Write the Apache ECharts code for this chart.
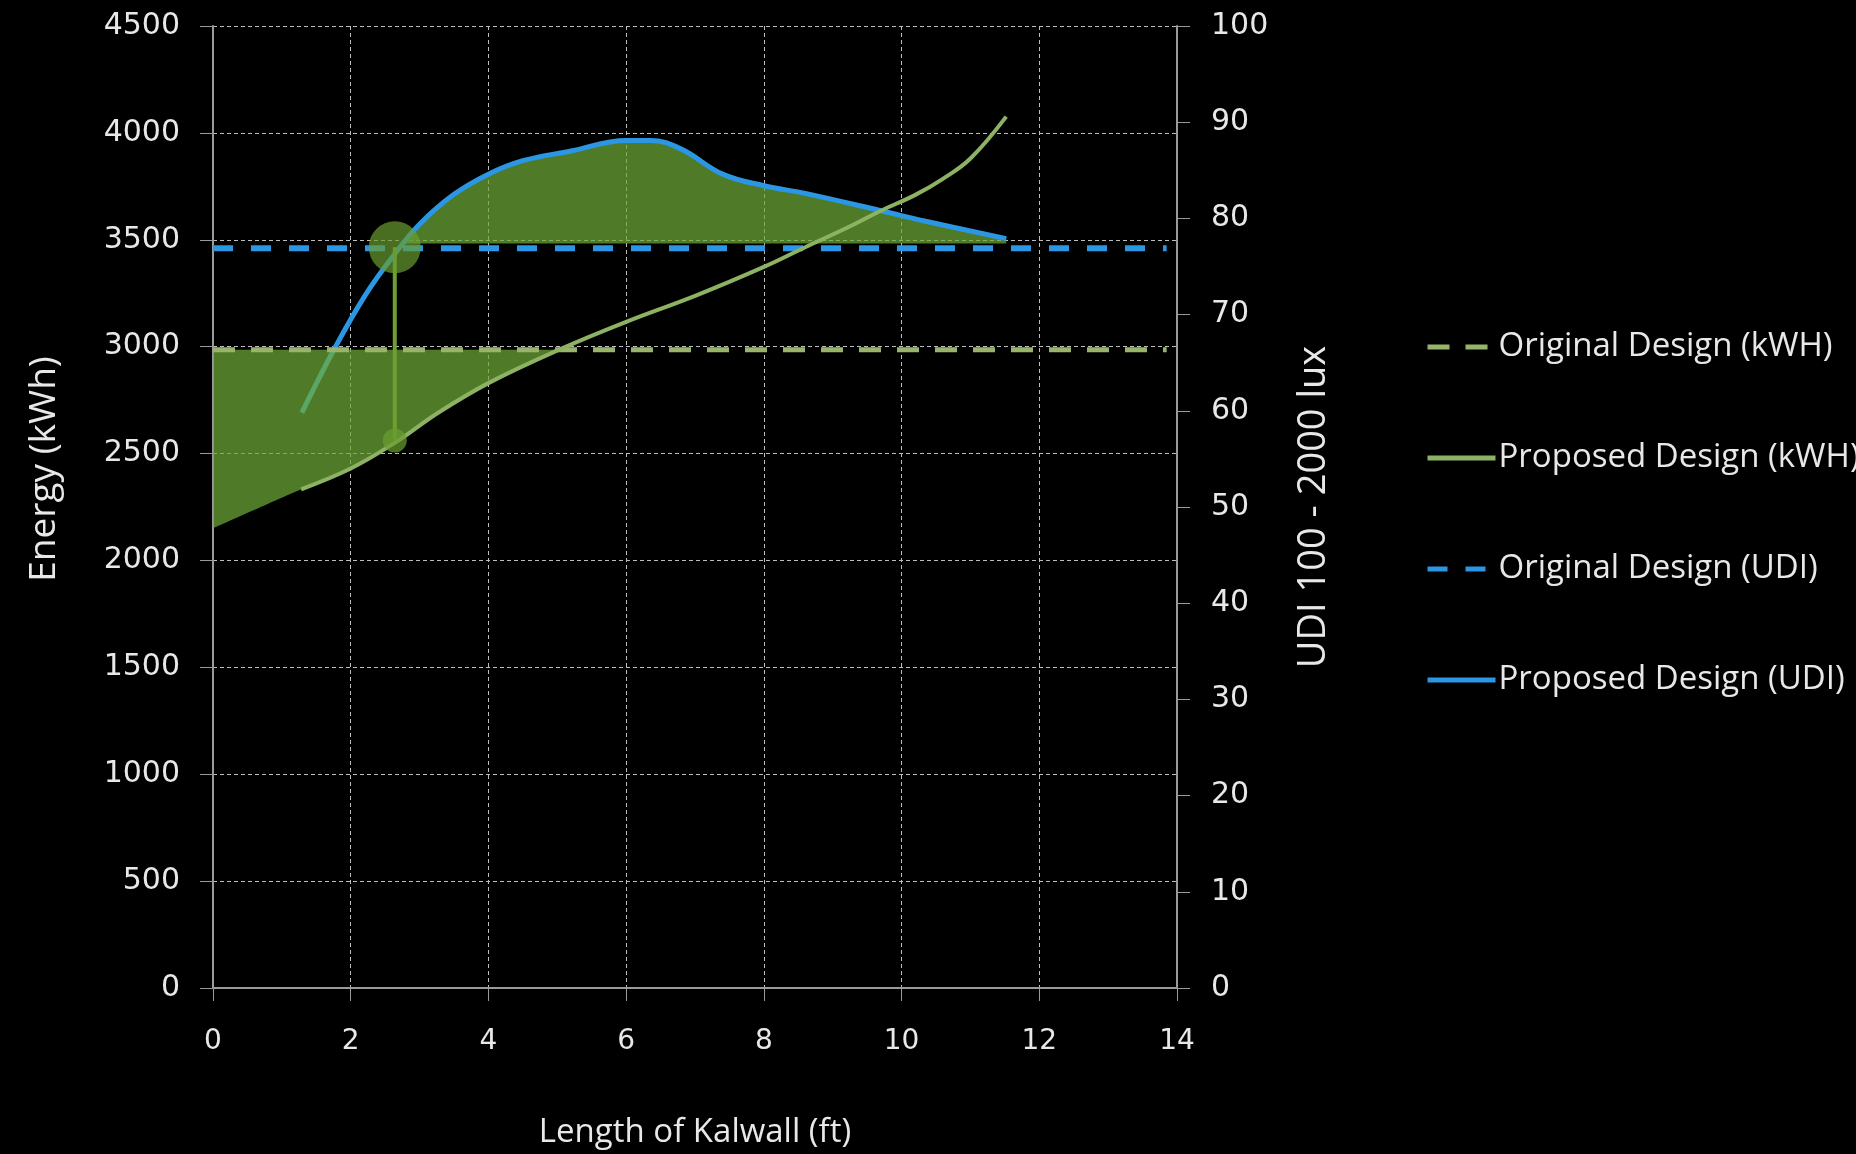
<!DOCTYPE html>
<html>
<head>
<meta charset="utf-8">
<title>Kalwall</title>
<script src="https://cdn.jsdelivr.net/npm/echarts@6/dist/echarts.min.js"></script>
<style>
    html, body { margin: 0; padding: 0; background: #000; }
    #main { width: 1856px; height: 1154px; }
</style>
</head>
<body>
<div id="main"></div>
<script>
// data
var xTicks = [0, 2, 4, 6, 8, 10, 12, 14];
var energyTicks = [0, 500, 1000, 1500, 2000, 2500, 3000, 3500, 4000, 4500];
var udiTicks = [0, 10, 20, 30, 40, 50, 60, 70, 80, 90, 100];

// the two flat reference lines stop just short of the right axis
var origKwh = 2985;
var origUdi = 76.9;
var origEndX = 13.85;

var propKwhX = [1.28, 2.0, 2.64, 3.27, 4.02, 5.02, 6.0, 7.02, 8.0, 8.6, 9.2, 9.7, 10.2, 10.6, 11.0, 11.52];
var propKwhY = [2333, 2430, 2550, 2691, 2833, 2985, 3116, 3240, 3373, 3465, 3555, 3636, 3710, 3785, 3880, 4076];

var propUdiX = [1.29, 1.76, 2.21, 2.64, 3.0, 3.5, 4.0, 4.5, 5.2, 6.0, 6.35, 6.8, 7.4, 8.0, 8.6, 9.7, 10.35, 11.52];
var propUdiY = [59.8, 66.4, 72.0, 76.3, 79.4, 82.5, 84.6, 86.0, 87.0, 88.1, 88.1, 87.2, 84.6, 83.4, 82.6, 80.8, 79.7, 77.9];

// shaded areas
var lowFillStart = [0, 2150];
var lowFillEndX = 5.02;
var upFillStart = [2.78, 77.4];
var upFillBase = 77.4;

// marker at the chosen length
var markX = 2.64;
var markUdiKwh = 3465;
var markEnergy = 2561;

function pairs(xs, ys) {
    var out = [];
    for (var i = 0; i < xs.length; i++) {
        out.push([xs[i], ys[i]]);
    }
    return out;
}

var propKwh = pairs(propKwhX, propKwhY);
var propUdi = pairs(propUdiX, propUdiY);

var lowFill = [lowFillStart];
for (var i = 0; i < propKwh.length; i++) {
    if (propKwh[i][0] <= lowFillEndX) lowFill.push(propKwh[i]);
}
var upFill = [upFillStart];
for (var j = 0; j < propUdi.length; j++) {
    if (propUdi[j][0] > upFillStart[0]) upFill.push(propUdi[j]);
}

var cGreenDash = '#98b46c';
var cGreen = '#8db263';
var cBlue = '#2b96e3';
var cFill = 'rgba(110,170,55,0.72)';
var cText = '#e8e8e8';
var cAxis = '#9a9a9a';
var cGrid = '#bdbdbd';

var myChart = echarts.init(document.getElementById('main'));

function plain(v) {
    return String(v);
}

var option = {
    backgroundColor: '#000',
    animation: false,
    grid: {
        left: 213,
        right: 679,
        top: 26,
        bottom: 163
    },
    legend: {
        orient: 'vertical',
        left: 1420,
        top: 322,
        itemWidth: 68,
        itemHeight: 14,
        itemGap: 71,
        data: ['Original Design (kWH)', 'Proposed Design (kWH)', 'Original Design (UDI)', 'Proposed Design (UDI)'],
        itemStyle: { opacity: 0 },
        lineStyle: { width: 5 },
        textStyle: {
            color: cText,
            fontFamily: 'Open Sans',
            fontSize: 33,
            lineHeight: 40,
            padding: [0, 0, 0, -2]
        }
    },
    xAxis: {
        type: 'value',
        min: xTicks[0],
        max: xTicks[xTicks.length - 1],
        interval: xTicks[1] - xTicks[0],
        name: 'Length of Kalwall (ft)',
        nameLocation: 'middle',
        nameGap: 128,
        nameTextStyle: { color: cText, fontFamily: 'Open Sans', fontSize: 33 },
        axisLine: { show: true, lineStyle: { color: cAxis, width: 2 } },
        axisTick: { show: true, length: 13, lineStyle: { color: cAxis, width: 1 } },
        axisLabel: { color: cText, fontFamily: 'DejaVu Sans', fontSize: 28, margin: 40, formatter: plain },
        splitLine: { show: true, lineStyle: { color: cGrid, width: 1, type: [4, 3] } }
    },
    yAxis: [
        {
            type: 'value',
            min: energyTicks[0],
            max: energyTicks[energyTicks.length - 1],
            interval: energyTicks[1] - energyTicks[0],
            position: 'left',
            name: 'Energy (kWh)',
            nameLocation: 'middle',
            nameGap: 150,
            nameRotate: 90,
            nameTextStyle: { color: cText, fontFamily: 'Open Sans', fontSize: 37, padding: [0, 0, 0, 76] },
            axisLine: { show: true, lineStyle: { color: cAxis, width: 2 } },
            axisTick: { show: true, length: 13, lineStyle: { color: cAxis, width: 1 } },
            axisLabel: { color: cText, fontFamily: 'DejaVu Sans', fontSize: 30, margin: 33, formatter: plain },
            splitLine: { show: true, lineStyle: { color: cGrid, width: 1, type: [4, 3] } }
        },
        {
            type: 'value',
            min: udiTicks[0],
            max: udiTicks[udiTicks.length - 1],
            interval: udiTicks[1] - udiTicks[0],
            position: 'right',
            name: 'UDI 100 - 2000 lux',
            nameLocation: 'middle',
            nameGap: 118,
            nameRotate: 90,
            nameTextStyle: { color: cText, fontFamily: 'Open Sans', fontSize: 38 },
            axisLine: { show: true, lineStyle: { color: cAxis, width: 2 } },
            axisTick: { show: true, length: 13, lineStyle: { color: cAxis, width: 1 } },
            axisLabel: { color: cText, fontFamily: 'DejaVu Sans', fontSize: 30, margin: 34, formatter: plain },
            splitLine: { show: false }
        }
    ],
    series: [
        // upper shaded area, under the blue curve
        {
            type: 'line',
            yAxisIndex: 1,
            data: upFill,
            smooth: 0.4,
            symbol: 'none',
            lineStyle: { width: 0 },
            areaStyle: { color: cFill, opacity: 1, origin: upFillBase },
            silent: true,
            z: 1
        },
        {
            name: 'Original Design (UDI)',
            type: 'line',
            yAxisIndex: 1,
            data: [[xTicks[0], origUdi], [origEndX, origUdi]],
            symbol: 'none',
            lineStyle: { color: cBlue, width: 6, type: [20, 18] },
            itemStyle: { color: cBlue },
            z: 2
        },
        {
            name: 'Proposed Design (UDI)',
            type: 'line',
            yAxisIndex: 1,
            data: propUdi,
            smooth: 0.4,
            symbol: 'none',
            lineStyle: { color: cBlue, width: 5 },
            itemStyle: { color: cBlue },
            z: 3
        },
        // lower shaded area, drawn over the blue curve
        {
            type: 'line',
            yAxisIndex: 0,
            data: lowFill,
            smooth: 0.4,
            symbol: 'none',
            lineStyle: { width: 0 },
            areaStyle: { color: cFill, opacity: 1, origin: origKwh },
            silent: true,
            z: 4
        },
        {
            name: 'Original Design (kWH)',
            type: 'line',
            yAxisIndex: 0,
            data: [[xTicks[0], origKwh], [origEndX, origKwh]],
            symbol: 'none',
            lineStyle: { color: cGreenDash, width: 5, type: [22, 16] },
            itemStyle: { color: cGreenDash },
            z: 5
        },
        {
            name: 'Proposed Design (kWH)',
            type: 'line',
            yAxisIndex: 0,
            data: propKwh,
            smooth: 0.4,
            symbol: 'none',
            lineStyle: { color: cGreen, width: 4 },
            itemStyle: { color: cGreen },
            z: 6
        },
        // connector between the two markers
        {
            type: 'line',
            yAxisIndex: 0,
            data: [[markX, markUdiKwh], [markX, markEnergy]],
            symbol: 'none',
            lineStyle: { color: '#6f9f32', width: 4 },
            silent: true,
            z: 7
        },
        {
            type: 'scatter',
            yAxisIndex: 0,
            data: [[markX, markUdiKwh]],
            symbolSize: 52,
            itemStyle: { color: 'rgba(104,156,48,0.88)' },
            silent: true,
            z: 8
        },
        {
            type: 'scatter',
            yAxisIndex: 0,
            data: [[markX, markEnergy]],
            symbolSize: 24,
            itemStyle: { color: 'rgba(104,156,48,0.9)' },
            silent: true,
            z: 8
        }
    ]
};

myChart.setOption(option);
</script>
</body>
</html>
